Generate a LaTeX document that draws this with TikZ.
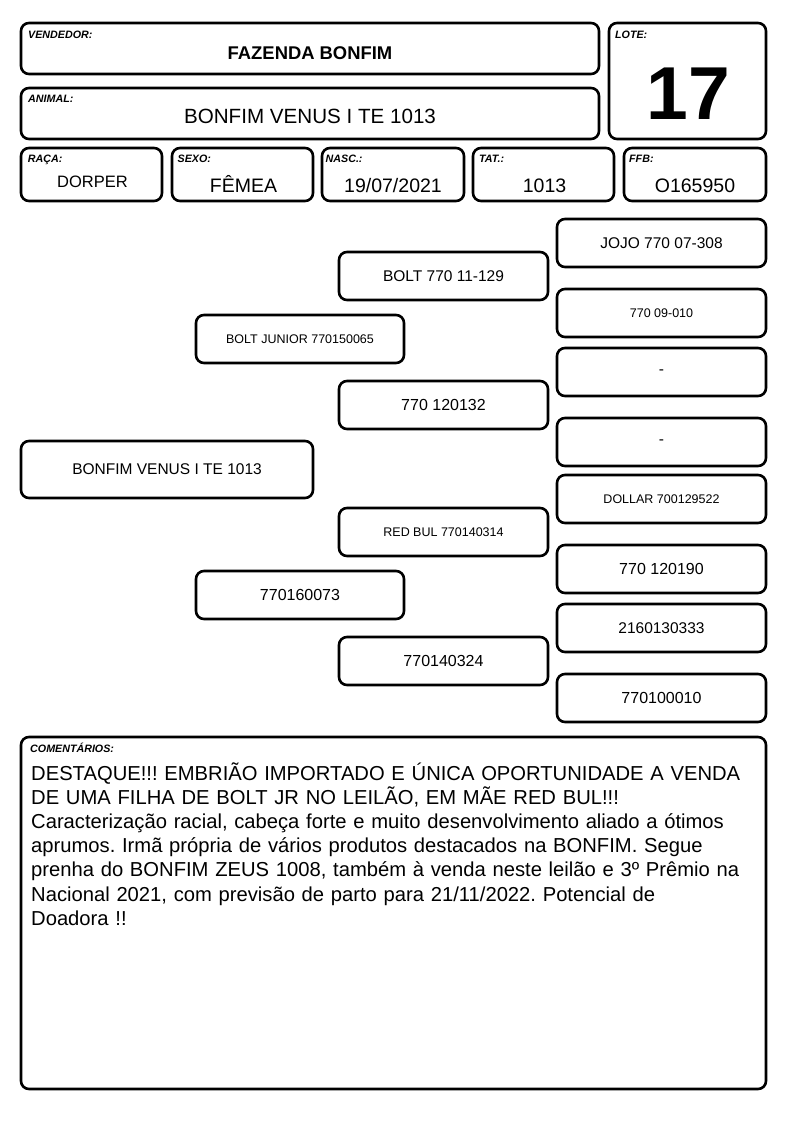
\documentclass[tikz,border=0pt]{standalone}
\usepackage{fontspec}
\setmainfont{Liberation Sans}
\frenchspacing
\begin{document}
\begin{tikzpicture}[x=1pt,y=-1pt,
  box/.style={draw=black, line width=2.6pt, rounded corners=8pt, inner sep=0pt, fill=white},
  lbl/.style={anchor=base west, inner sep=0pt, font=\fontsize{10.7}{12}\selectfont\bfseries\itshape},
  big/.style={anchor=base, inner sep=0pt, font=\fontsize{19.5}{22}\selectfont},
  ped/.style={box, minimum width=209pt, minimum height=48pt, font=\fontsize{15.5}{18}\selectfont},
  peds/.style={ped, font=\fontsize{12.5}{15}\selectfont}]
\useasboundingbox (0,0) rectangle (794,1123);
\fill[white] (0,0) rectangle (794,1123);
% header
\node[box, minimum width=578pt, minimum height=51pt] (vend) at (310,48.5) {};
\node[lbl] (vendl) at (28,39) {VENDEDOR:};
\node[anchor=base, inner sep=0pt, font=\fontsize{18.4}{22}\selectfont\bfseries] (vendt) at (310,59.6) {FAZENDA BONFIM};
\node[box, minimum width=578pt, minimum height=51pt] (anim) at (310,113.5) {};
\node[lbl] (animl) at (28,102.3) {ANIMAL:};
\node[anchor=base, inner sep=0pt, font=\fontsize{20.6}{24}\selectfont] (animt) at (310,123.4) {BONFIM VENUS I TE 1013};
\node[box, minimum width=157pt, minimum height=116pt] (lote) at (687.5,81) {};
\node[lbl] (lotel) at (615,39) {LOTE:};
\node[anchor=base, inner sep=0pt, font=\fontsize{75}{80}\selectfont\bfseries] (lotet) at (688.5,120) {17};
% row
\node[box, minimum width=141pt, minimum height=53pt] (raca) at (91.5,174.5) {};
\node[lbl] (racal) at (27.7,162.7) {RAÇA:};
\node[big, font=\fontsize{16.5}{20}\selectfont] (racat) at (92.5,188) {DORPER};
\node[box, minimum width=141pt, minimum height=53pt] (sexo) at (242.5,174.5) {};
\node[lbl] (sexol) at (177.5,162.7) {SEXO:};
\node[big] (sexot) at (243.5,193) {FÊMEA};
\node[box, minimum width=142pt, minimum height=53pt] (nasc) at (393,174.5) {};
\node[lbl] (nascl) at (325.5,162.7) {NASC.:};
\node[big] (nasct) at (393,193) {19/07/2021};
\node[box, minimum width=141pt, minimum height=53pt] (tat) at (543.5,174.5) {};
\node[lbl] (tatl) at (479,162.7) {TAT.:};
\node[big] (tatt) at (544.5,193) {1013};
\node[box, minimum width=142pt, minimum height=53pt] (ffb) at (695,174.5) {};
\node[lbl] (ffbl) at (629,162.7) {FFB:};
\node[big] (ffbt) at (695,193) {O165950};
% pedigree
\node[box, minimum width=292pt, minimum height=57pt, font=\fontsize{15.5}{18}\selectfont] (p1) at (167,469.5) {BONFIM VENUS I TE 1013};
\node[peds, minimum width=208pt] (p2a) at (300,339) {BOLT JUNIOR 770150065};
\node[ped, minimum width=208pt, font=\fontsize{16}{18}\selectfont] (p2b) at (300,595) {770160073};
\node[ped] (p3a) at (443.5,276) {BOLT 770 11-129};
\node[ped, font=\fontsize{16}{18}\selectfont] (p3b) at (443.5,405) {770 120132};
\node[peds] (p3c) at (443.5,532) {RED BUL 770140314};
\node[ped, font=\fontsize{16}{18}\selectfont] (p3d) at (443.5,661) {770140324};
\node[ped] (p4a) at (661.5,243) {JOJO 770 07-308};
\node[peds] (p4b) at (661.5,313) {770 09-010};
\node[ped] (p4c) at (661.5,372) {-};
\node[ped] (p4d) at (661.5,442) {-};
\node[peds] (p4e) at (661.5,499) {DOLLAR 700129522};
\node[ped, font=\fontsize{16}{18}\selectfont] (p4f) at (661.5,569) {770 120190};
\node[ped, font=\fontsize{15.5}{18}\selectfont] (p4g) at (661.5,628) {2160130333};
\node[ped, font=\fontsize{16}{18}\selectfont] (p4h) at (661.5,698) {770100010};
% comments
\node[box, minimum width=745pt, minimum height=352pt] (com) at (393.5,913) {};
\node[lbl] (coml) at (30,752.7) {COMENTÁRIOS:};
\node[anchor=base west, inner sep=0pt, text width=735pt, align=left, font=\fontsize{20.2}{24.2}\selectfont] (comt) at (31,780) {DESTAQUE!!! EMBRIÃO IMPORTADO E ÚNICA OPORTUNIDADE A VENDA\\
DE UMA FILHA DE BOLT JR NO LEILÃO, EM MÃE RED BUL!!!\\
Caracterização racial, cabeça forte e muito desenvolvimento aliado a ótimos\\
aprumos. Irmã própria de vários produtos destacados na BONFIM. Segue\\
prenha do BONFIM ZEUS 1008, também à venda neste leilão e 3º Prêmio na\\
Nacional 2021, com previsão de parto para 21/11/2022. Potencial de\\
Doadora !!};
\end{tikzpicture}
\end{document}
